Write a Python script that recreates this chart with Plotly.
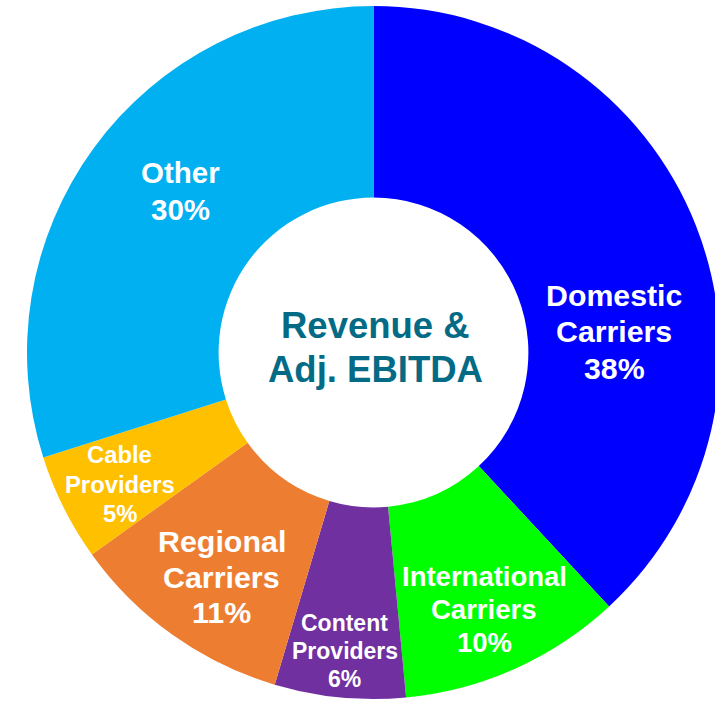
import math
import plotly.graph_objects as go

# ---- data ----
segments = ["Domestic Carriers", "International Carriers", "Content Providers",
            "Regional Carriers", "Cable Providers", "Other"]
shares = [38.1, 10.4, 6.1, 10.5, 5.0, 29.9]          # slice sizes
share_labels = ["38%", "10%", "6%", "11%", "5%", "30%"]  # percentages as printed
label_lines = [["Domestic", "Carriers"], ["International", "Carriers"], ["Content", "Providers"],
               ["Regional", "Carriers"], ["Cable", "Providers"], ["Other"]]
center_title = ["Revenue &", "Adj. EBITDA"]

# ---- style ----
colors = ["#0000FF", "#00FF00", "#7030A0", "#ED7D31", "#FFC000", "#00B0F0"]
label_sizes = [30.3, 27.5, 23, 30.4, 23.8, 29.5]
label_spacing = [36.5, 33, 28, 35.5, 29.5, 37]
label_rfrac = [0.698, 0.809, 0.866, 0.782, 0.825, 0.727]
label_angle_shift = [16.5, 0.8, -0.1, -1.4, -0.8, 3.8]

W, H = 730, 701          # figure is slightly wider than the window: donut is clipped on the right
CX, CY, R = 373.5, 352.5, 346.5   # pixel geometry of the donut
HOLE = 0.447
FONT = "Arial, 'Liberation Sans', Helvetica, sans-serif"
TITLE_COLOR = "#046B86"

fig = go.Figure()
fig.add_trace(go.Pie(
    labels=segments, values=shares, sort=False, direction="clockwise", rotation=0,
    hole=HOLE, marker=dict(colors=colors, line=dict(width=0)),
    textinfo="none", hoverinfo="label+percent", showlegend=False,
    domain=dict(x=[(CX - R) / W, (CX + R) / W], y=[1 - (CY + R) / H, 1 - (CY - R) / H]),
))


def add_block(lines, px, py, size, spacing, color):
    n = len(lines)
    for j, line in enumerate(lines):
        ly = py + (j - (n - 1) / 2) * spacing
        fig.add_annotation(x=px / W, y=1 - ly / H, xref="paper", yref="paper",
                           text=f"<b>{line}</b>", showarrow=False,
                           xanchor="center", yanchor="middle",
                           font=dict(family=FONT, size=size, color=color))


total = sum(shares)
cum = 0
for i, v in enumerate(shares):
    mid = (cum + v / 2) / total * 360 + label_angle_shift[i]
    cum += v
    a = math.radians(mid)
    px = CX + label_rfrac[i] * R * math.sin(a)
    py = CY - label_rfrac[i] * R * math.cos(a)
    add_block(label_lines[i] + [share_labels[i]], px, py, label_sizes[i], label_spacing[i], "white")

add_block(center_title, CX + 1.5, CY - 5, 36.5, 45, TITLE_COLOR)

fig.update_layout(width=W, height=H, margin=dict(l=0, r=0, t=0, b=0),
                  paper_bgcolor="white", plot_bgcolor="white")
fig.write_html(
    "out.html",
    config={"displayModeBar": False},
    post_script="document.body.style.margin='0';document.body.style.overflow='hidden';"
                "document.documentElement.style.overflow='hidden';",
)
